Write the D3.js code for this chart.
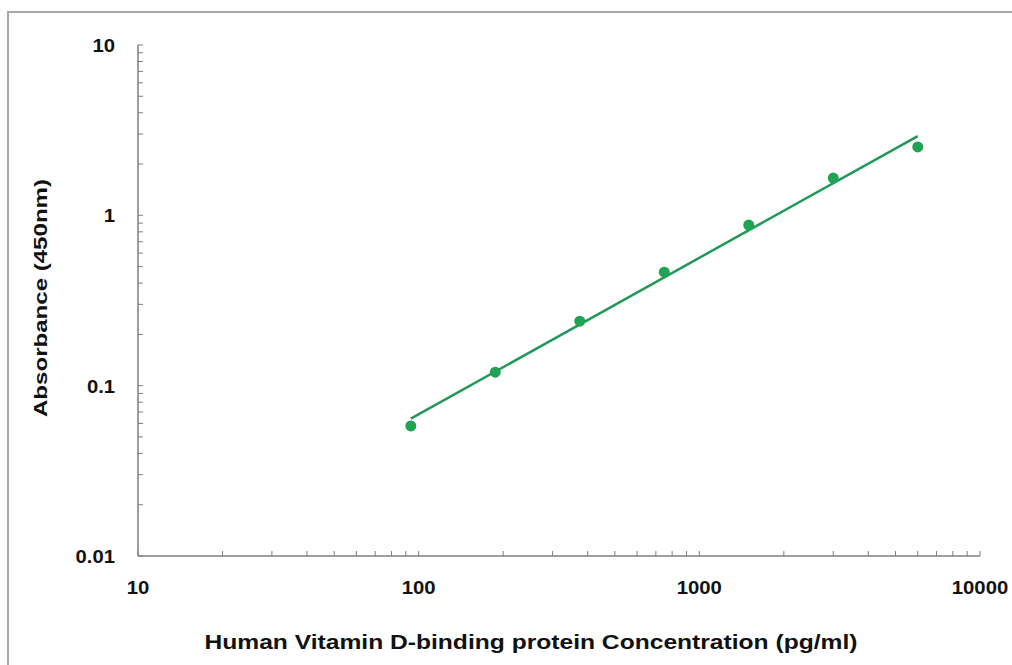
<!DOCTYPE html>
<html><head><meta charset="utf-8">
<script src="https://cdn.jsdelivr.net/npm/d3@7"></script>
<style>body{margin:0;background:#fff}svg{display:block}</style>
</head><body>
<svg id="c" width="1012" height="665"></svg>
<script>
const concentrations = [93.75, 187.5, 375, 750, 1500, 3000, 6000];
const absorbance = [0.058, 0.120, 0.239, 0.464, 0.877, 1.656, 2.52];
const fitX = [93.75, 6000];
const fitY = [0.064, 2.92];
const xTicks = [10, 100, 1000, 10000];
const yTicks = [0.01, 0.1, 1, 10];
const xTitle = "Human Vitamin D-binding protein Concentration (pg/ml)";
const yTitle = "Absorbance (450nm)";

const svg = d3.select("#c");
const green = "#1ea452";
const lineGreen = "#22985a";

svg.append("rect").attr("x", 8).attr("y", 12).attr("width", 1100).attr("height", 700)
  .attr("fill", "none").attr("stroke", "#a8a8a8").attr("stroke-width", 2);

const x = d3.scaleLog().domain([10, 10000]).range([138, 980]);
const y = d3.scaleLog().domain([0.01, 10]).range([556, 45]);

function minors(dom) {
  const out = [];
  for (let p = Math.log10(dom[0]); p < Math.log10(dom[1]); p++) {
    for (let k = 1; k <= 9; k++) out.push(k * Math.pow(10, p));
  }
  out.push(dom[1]);
  return out;
}
const axisColor = "#7f7f7f";
const g = svg.append("g");
g.append("line").attr("x1", x(10)).attr("x2", x(10000)).attr("y1", y(0.01)).attr("y2", y(0.01))
  .attr("stroke", axisColor).attr("stroke-width", 1.5);
g.append("line").attr("x1", x(10)).attr("x2", x(10)).attr("y1", y(0.01)).attr("y2", y(10))
  .attr("stroke", axisColor).attr("stroke-width", 1.5);
minors([10, 10000]).forEach(v => {
  g.append("line").attr("x1", x(v)).attr("x2", x(v)).attr("y1", y(0.01)).attr("y2", y(0.01) - 5)
    .attr("stroke", axisColor).attr("stroke-width", 1);
});
minors([0.01, 10]).forEach(v => {
  g.append("line").attr("x1", x(10)).attr("x2", x(10) + 5).attr("y1", y(v)).attr("y2", y(v))
    .attr("stroke", axisColor).attr("stroke-width", 1);
});

const font = "Liberation Sans, Arial, sans-serif";
const digitW = 11.3;
function labelW(s) { s = String(s); let w = 0; for (const c of s) w += (c === "." ? 5.5 : digitW); return w; }

svg.selectAll(".xl").data(xTicks).enter().append("text")
  .attr("x", d => x(d)).attr("y", 594).attr("text-anchor", "middle")
  .attr("font-family", font).attr("font-weight", "bold").attr("font-size", 18).attr("fill", "#111")
  .attr("textLength", d => labelW(d)).attr("lengthAdjust", "spacingAndGlyphs")
  .text(d => d);
svg.selectAll(".yl").data(yTicks).enter().append("text")
  .attr("x", 115).attr("y", d => y(d) + 7).attr("text-anchor", "end")
  .attr("font-family", font).attr("font-weight", "bold").attr("font-size", 18).attr("fill", "#111")
  .attr("textLength", d => labelW(d)).attr("lengthAdjust", "spacingAndGlyphs")
  .text(d => d);

svg.append("text").attr("x", 531).attr("y", 649).attr("text-anchor", "middle")
  .attr("font-family", font).attr("font-weight", "bold").attr("font-size", 20).attr("fill", "#111")
  .attr("textLength", 653).attr("lengthAdjust", "spacingAndGlyphs")
  .text(xTitle);
svg.append("text").attr("transform", "translate(47,298) rotate(-90)").attr("text-anchor", "middle")
  .attr("font-family", font).attr("font-weight", "bold").attr("font-size", 19).attr("fill", "#111")
  .attr("textLength", 238).attr("lengthAdjust", "spacingAndGlyphs")
  .text(yTitle);

const line = d3.line().x(d => x(d[0])).y(d => y(d[1]));
svg.append("path").datum(fitX.map((v, i) => [v, fitY[i]])).attr("d", line)
  .attr("fill", "none").attr("stroke", lineGreen).attr("stroke-width", 2.5);

svg.selectAll(".pt").data(concentrations).enter().append("circle")
  .attr("cx", d => x(d)).attr("cy", (d, i) => y(absorbance[i])).attr("r", 5.5)
  .attr("fill", green);
</script>
</body></html>
